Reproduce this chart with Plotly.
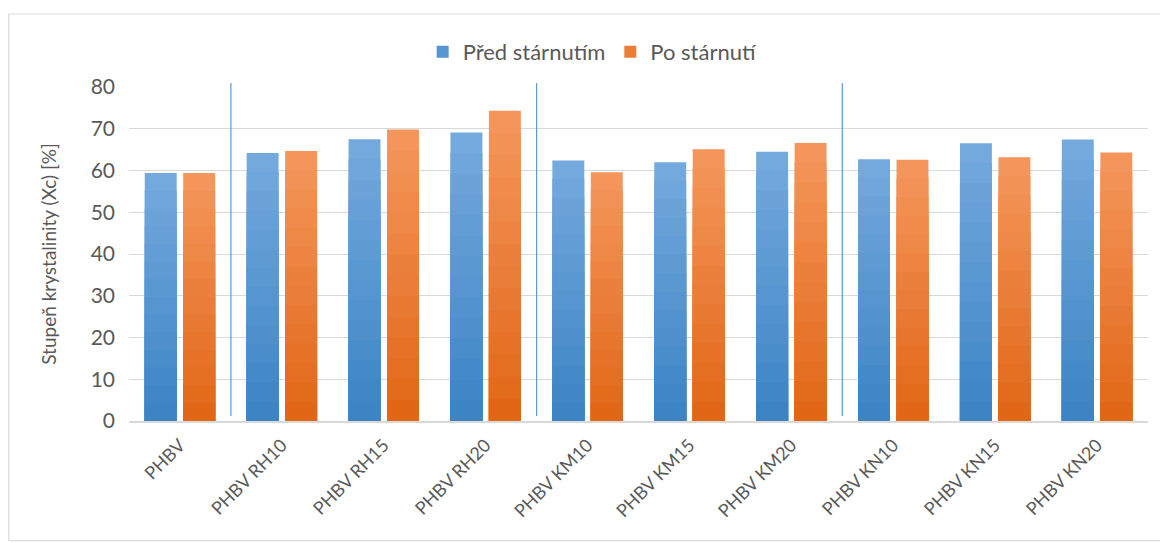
import plotly.graph_objects as go

categories = ["PHBV", "PHBV RH10", "PHBV RH15", "PHBV RH20", "PHBV KM10",
              "PHBV KM15", "PHBV KM20", "PHBV KN10", "PHBV KN15", "PHBV KN20"]
pred_starnutim = [59.4, 64.2, 67.5, 69.1, 62.4, 62.0, 64.5, 62.7, 66.5, 67.4]
po_starnuti = [59.4, 64.7, 69.8, 74.3, 59.6, 65.1, 66.6, 62.6, 63.2, 64.3]
# separators drawn after these category indices (end of each sample group)
group_ends = [0, 3, 6]

FONT = "Lato"
GREY = "#595959"
LAYERS = 14  # shading layers used to fake Excel's vertical gradient fill


def mix(c1, c2, t):
    a = [int(c1[i:i + 2], 16) for i in (1, 3, 5)]
    b = [int(c2[i:i + 2], 16) for i in (1, 3, 5)]
    return "rgb(%d,%d,%d)" % tuple(round(a[i] + (b[i] - a[i]) * t) for i in range(3))


series = [
    ("Před stárnutím", pred_starnutim, "#73a9dd", "#3d84c4", "a"),
    ("Po stárnutí", po_starnuti, "#f4965c", "#e16717", "b"),
]

fig = go.Figure()
for name, vals, top, bottom, grp in series:
    for k in range(LAYERS):
        f = 1 - k / LAYERS
        fig.add_trace(go.Bar(
            x=categories, y=[v * f for v in vals], name=name,
            offsetgroup=grp, legendgroup=grp,
            showlegend=(k == LAYERS // 2),
            marker=dict(color=mix(top, bottom, k / (LAYERS - 1)), line=dict(width=0)),
            hoverinfo="skip" if k else "x+y+name",
        ))

# thin blue group separators
for i in group_ends:
    fig.add_shape(type="line", xref="x", yref="paper", x0=i + 0.5, x1=i + 0.5,
                  y0=0.015, y1=1.012, line=dict(color="#5b9bd5", width=1.2))

# outer chart border
fig.add_shape(type="rect", xref="paper", yref="paper", x0=-0.118, x1=1.0165,
              y0=-0.358, y1=1.2186, line=dict(color="#d9d9d9", width=1.2),
              layer="below")

fig.update_layout(
    width=1160, height=535,
    margin=dict(l=121, r=20, t=79, b=122),
    paper_bgcolor="white", plot_bgcolor="white",
    barmode="group", bargap=0.245, bargroupgap=0.17,
    font=dict(family=FONT, color=GREY),
    showlegend=True,
    legend=dict(orientation="h", x=0.455, xanchor="center", y=1.105, yanchor="middle",
                font=dict(size=22, color=GREY), itemwidth=30, traceorder="normal"),
    xaxis=dict(tickangle=-45, tickfont=dict(size=18, color=GREY), showgrid=False,
               showline=True, linecolor="#d9d9d9", linewidth=1.5, ticks="",
               ticklabelstandoff=5),
    yaxis=dict(range=[0, 80], dtick=10, tickfont=dict(size=21, color=GREY),
               showgrid=True, gridcolor="#d9d9d9", gridwidth=1.2, zeroline=False,
               ticks="", ticklen=0, ticklabelstandoff=13,
               title=dict(text="Stupeň krystalinity (Xc) [%]", font=dict(size=19, color=GREY),
                          standoff=28)),
)

fig.write_html("out.html")
